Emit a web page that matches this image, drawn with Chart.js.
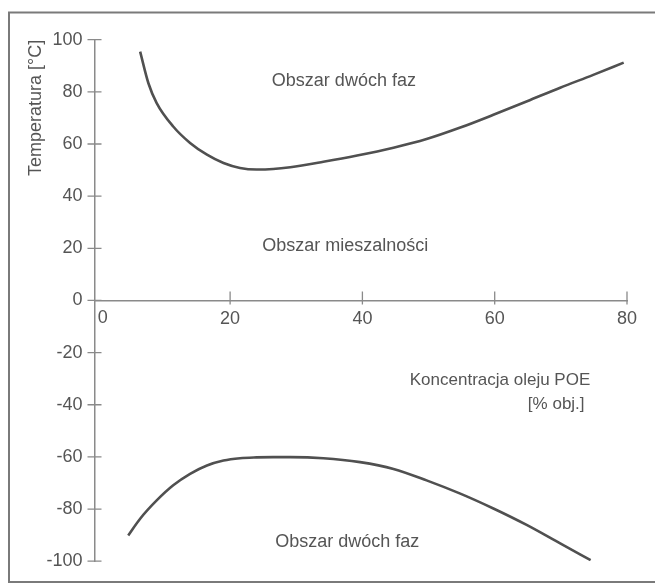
<!DOCTYPE html>
<html><head><meta charset="utf-8">
<script src="https://cdn.jsdelivr.net/npm/chart.js@4/dist/chart.umd.min.js"></script>
<style>html,body{margin:0;padding:0;background:#fff;}canvas{display:block}</style>
</head><body>
<canvas id="c" width="655" height="584"></canvas>
<script>
// ---- data ----
const upperX = [6.4, 7.65, 8.9, 11.4, 13.95, 16.5, 19.0, 21.5, 24.0, 26.5, 29.1, 34.1, 39.2, 44.7, 49.7, 54.8, 59.8, 64.9, 69.9, 74.9, 79.5];
const upperY = [95.4, 83.3, 75.7, 66.7, 60.4, 55.9, 52.7, 50.8, 50.2, 50.4, 51.1, 53.2, 55.6, 58.6, 61.9, 66.3, 71.2, 76.4, 81.6, 86.5, 91.2];
const lowerX = [4.6, 6.4, 8.9, 11.4, 13.95, 16.5, 19.0, 21.5, 24.0, 26.5, 29.1, 34.1, 39.65, 44.7, 49.7, 54.8, 59.8, 64.9, 69.9, 74.5];
const lowerY = [-90.1, -83.7, -76.7, -70.9, -66.5, -63.3, -61.4, -60.5, -60.2, -60.1, -60.1, -60.5, -62.0, -64.6, -69.0, -74.1, -79.8, -86.2, -93.2, -99.6];
const xTickValues = [0, 20, 40, 60, 80];
const yTickValues = [-100, -80, -60, -40, -20, 0, 20, 40, 60, 80, 100];
const yTitle = 'Temperatura [°C]';
const regionTexts = ['Obszar dwóch faz', 'Obszar mieszalności', 'Obszar dwóch faz'];
const xTitleLines = ['Koncentracja oleju POE', '[% obj.]'];

const FONT = '"Liberation Sans", Arial, Helvetica, sans-serif';
const TXT = '#555';
const AX = '#8a8a8a';

const toPts = (xs, ys) => xs.map((x, i) => ({x, y: ys[i]}));

const decor = {
  id: 'decor',
  beforeDraw(chart) {
    const ctx = chart.ctx;
    ctx.save();
    ctx.strokeStyle = '#7a7a7a';
    ctx.lineWidth = 2;
    ctx.strokeRect(9, 12.5, 700, 569.5);
    ctx.restore();
  },
  afterDraw(chart) {
    const ctx = chart.ctx;
    const xs = chart.scales.x, ys = chart.scales.y;
    const ax = ys.left + ys.width;
    const ay = ys.getPixelForValue(0);
    ctx.save();
    ctx.strokeStyle = AX;
    ctx.lineWidth = 1.3;
    ctx.beginPath();
    yTickValues.forEach(v => {
      const p = ys.getPixelForValue(v);
      ctx.moveTo(ax - 7, p); ctx.lineTo(ax + 7, p);
    });
    xTickValues.forEach(v => {
      if (v === 0) return;
      const p = xs.getPixelForValue(v);
      ctx.moveTo(p, ay - 9); ctx.lineTo(p, ay + 4);
    });
    ctx.stroke();
    ctx.fillStyle = TXT;
    ctx.font = '18px ' + FONT;
    ctx.textAlign = 'center';
    ctx.textBaseline = 'middle';
    ctx.fillText('0', xs.getPixelForValue(0) + 5, ay + 18);
    ctx.fillText(regionTexts[0], xs.getPixelForValue(37.2), ys.getPixelForValue(84.2));
    ctx.fillText(regionTexts[1], xs.getPixelForValue(37.4), ys.getPixelForValue(20.7));
    ctx.fillText(regionTexts[2], xs.getPixelForValue(37.7), ys.getPixelForValue(-92.5));
    ctx.font = '17px ' + FONT;
    ctx.fillText(xTitleLines[0], xs.getPixelForValue(60.8), ys.getPixelForValue(-30.5));
    ctx.fillText(xTitleLines[1], xs.getPixelForValue(69.3), ys.getPixelForValue(-39.7));
    ctx.restore();
  }
};

new Chart(document.getElementById('c'), {
  type: 'scatter',
  data: {
    datasets: [
      {data: toPts(upperX, upperY), showLine: true, cubicInterpolationMode: 'monotone', borderColor: '#505050', borderWidth: 2.6, pointRadius: 0, fill: false},
      {data: toPts(lowerX, lowerY), showLine: true, cubicInterpolationMode: 'monotone', borderColor: '#505050', borderWidth: 2.6, pointRadius: 0, fill: false}
    ]
  },
  options: {
    responsive: false,
    animation: false,
    devicePixelRatio: 1,
    layout: {padding: {left: 0, top: 39.7, right: 28, bottom: 21.3}},
    plugins: {legend: {display: false}, tooltip: {enabled: false}},
    scales: {
      x: {
        type: 'linear',
        position: {y: 0},
        min: -0.5, max: 80,
        afterBuildTicks: s => { s.ticks = xTickValues.map(v => ({value: v})); },
        afterFit: s => { s.height = 0; },
        grid: {display: false, drawTicks: false},
        border: {display: true, color: AX, width: 1.5},
        ticks: {
          color: TXT, font: {size: 18, family: FONT}, padding: 8, maxRotation: 0,
          callback: v => (v === 0 ? '' : String(v))
        }
      },
      y: {
        type: 'linear',
        position: 'left',
        min: -100, max: 100,
        afterBuildTicks: s => { s.ticks = yTickValues.map(v => ({value: v})); },
        afterFit: s => { s.width = 94.5; },
        grid: {display: false, drawTicks: false},
        border: {display: true, color: AX, width: 1.5},
        ticks: {color: TXT, font: {size: 18, family: FONT}, padding: 12},
        title: {display: true, text: yTitle, align: 'end', color: TXT, font: {size: 18, family: FONT}, padding: {top: 25, bottom: 0}}
      }
    }
  },
  plugins: [decor]
});
</script>
</body></html>
